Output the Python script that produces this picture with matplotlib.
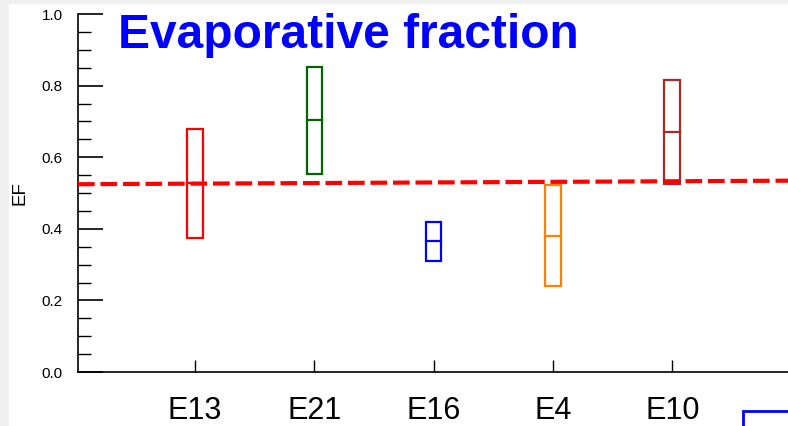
import matplotlib
matplotlib.use("Agg")
import matplotlib.pyplot as plt
from matplotlib.patches import Rectangle
from matplotlib.ticker import MultipleLocator

plt.rcParams['font.family'] = ['Liberation Sans', 'DejaVu Sans']

categories = ["E13", "E21", "E16", "E4", "E10"]
lows = [0.374, 0.553, 0.310, 0.240, 0.525]
medians = [0.527, 0.703, 0.366, 0.380, 0.669]
highs = [0.679, 0.852, 0.419, 0.522, 0.816]
colors = ["#ff0000", "#006400", "#0000ff", "#ff8000", "#a52a2a"]
trend_x = [0.02, 5.97]
trend_y = [0.5245, 0.5344]

W, H = 788, 426
fig = plt.figure(figsize=(W / 100, H / 100), dpi=100, facecolor="#f0f0f0")
fig.patches.append(Rectangle((9 / W, 0), 1 - 9 / W, 1 - 4 / H, transform=fig.transFigure,
                             facecolor="white", edgecolor="none", zorder=-10))

ax = fig.add_axes([78 / W, (H - 372) / H, (W - 78) / W, (372 - 14) / H])
ax.set_facecolor("white")

pos = list(range(1, len(categories) + 1))
bw = 0.13
for p, lo, md, hi, c in zip(pos, lows, medians, highs, colors):
    ax.add_patch(Rectangle((p - bw / 2, lo), bw, hi - lo, fill=False, edgecolor=c, linewidth=1.6, zorder=3))
    ax.plot([p - bw / 2, p + bw / 2], [md, md], color=c, linewidth=1.6, zorder=3)

ax.plot(trend_x, trend_y, color="#ff0000", linestyle=(0, (4, 1.4)), linewidth=3, zorder=4)

ax.set_xlim(0.02, 5.97)
ax.set_ylim(0, 1.0)
ax.set_xticks(pos)
ax.set_xticklabels(categories, fontsize=22)
ax.yaxis.set_major_locator(MultipleLocator(0.2))
ax.yaxis.set_minor_locator(MultipleLocator(0.05))
ax.set_yticks([0, 0.2, 0.4, 0.6, 0.8, 1.0])
ax.set_yticklabels(["0.0", "0.2", "0.4", "0.6", "0.8", "1.0"], fontsize=11)
ax.tick_params(axis='y', which='major', direction='in', length=18, width=1.2, pad=11)
ax.tick_params(axis='y', which='minor', direction='in', length=9, width=1.0)
ax.tick_params(axis='x', which='major', direction='in', length=9, width=1.0, pad=17)
for s in ["top", "right"]:
    ax.spines[s].set_visible(False)
ax.spines["left"].set_linewidth(1.2)
ax.spines["bottom"].set_linewidth(1.2)

fig.text(20 / W, 1 - 193 / H, "EF", rotation=90, fontsize=13.5, ha="center", va="center")
fig.text(118 / W, 1 - 48 / H, "Evaporative fraction", fontsize=34.5, fontweight="bold",
         color="#0000ff", ha="left", va="baseline")

fig.patches.append(Rectangle((743 / W, -0.05), 0.2, (H - 411) / H + 0.05, transform=fig.transFigure,
                             fill=False, edgecolor="#0000ff", linewidth=2, zorder=5))

fig.savefig("out.png", dpi=100, facecolor=fig.get_facecolor())
